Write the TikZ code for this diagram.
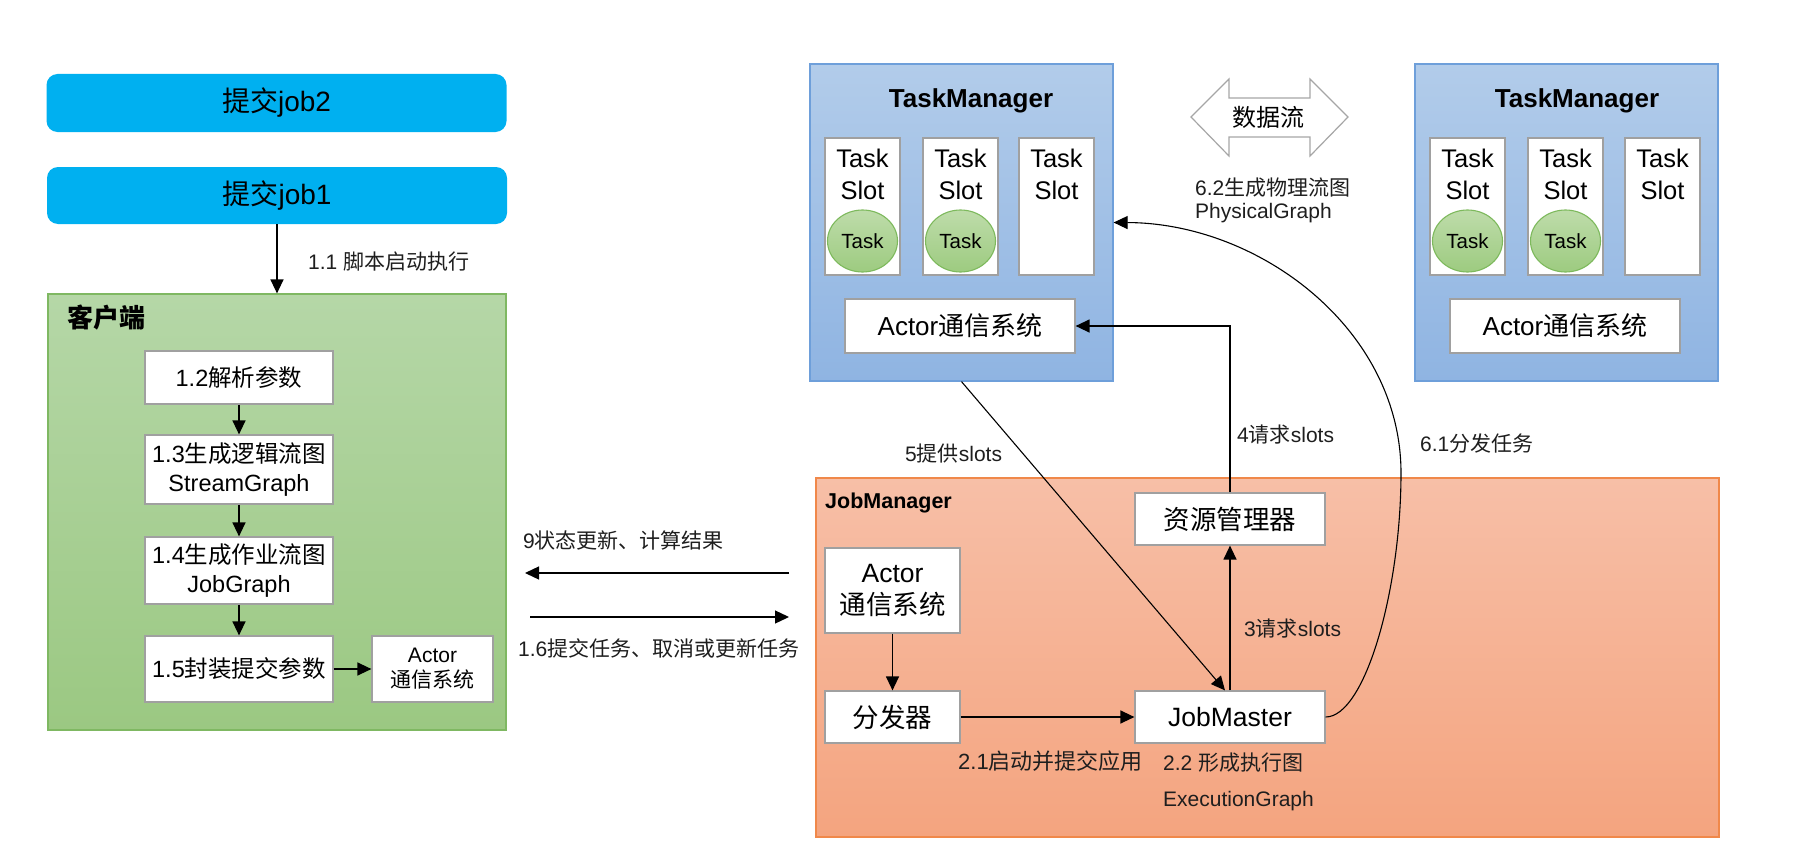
\documentclass[tikz,border=0pt]{standalone}
\usepackage{fontspec}
\setmainfont{Liberation Sans}
\newfontfamily\cjk{Noto Sans CJK SC}
\newcommand\zh[1]{{\cjk #1}}
\usetikzlibrary{arrows.meta,shapes.geometric,calc}
\definecolor{jobblue}{HTML}{00B0F0}
\definecolor{boxgray}{HTML}{A0A0A0}
\definecolor{greentop}{HTML}{B5D7A7}
\definecolor{greenbot}{HTML}{9BC882}
\definecolor{greenedge}{HTML}{7FB862}
\definecolor{bluetop}{HTML}{B2CCEA}
\definecolor{bluebot}{HTML}{8FB4E2}
\definecolor{blueedge}{HTML}{6E9FDA}
\definecolor{orgtop}{HTML}{F7BFA7}
\definecolor{orgbot}{HTML}{F4A47F}
\definecolor{orgedge}{HTML}{F0884A}
\definecolor{elltop}{HTML}{BEDCAA}
\definecolor{ellbot}{HTML}{9DCB80}
\definecolor{elledge}{HTML}{7DB95C}
\definecolor{dagray}{HTML}{A6A6A6}
\definecolor{labelc}{HTML}{1E1E1E}
\tikzset{
  wbox/.style={draw=boxgray, fill=white, line width=1.2pt, inner sep=0pt, align=center, text=black},
  jobbox/.style={fill=jobblue, rounded corners=11pt, inner sep=0pt, font=\fontsize{28}{32}\selectfont},
  arr/.style={line width=1.3pt, draw=black, -{Triangle[length=14pt,width=13pt]}},
  lbl/.style={anchor=west, inner sep=0pt, text=labelc, font=\fontsize{21}{25}\selectfont},
  cbox/.style={wbox, font=\fontsize{23.5}{28.5}\selectfont},
  tmbox/.style={draw=blueedge, line width=1.2pt, top color=bluetop, bottom color=bluebot, inner sep=0pt},
  slotbox/.style={wbox, minimum width=75pt, minimum height=137pt},
  slottxt/.style={inner sep=0pt, align=center, font=\fontsize{25.5}{32}\selectfont},
  taskell/.style={ellipse, draw=elledge, line width=1.1pt, top color=elltop, bottom color=ellbot, minimum width=70pt, minimum height=62pt, inner sep=0pt, font=\fontsize{20.5}{24}\selectfont},
  jmbox/.style={wbox, font=\fontsize{26.5}{32}\selectfont},
}
\begin{document}
\begin{tikzpicture}[x=1pt,y=-1pt]
\fill[white] (0,0) rectangle (1797,859);
\useasboundingbox (0,0) rectangle (1797,859);

% ---------- client side ----------
\node[jobbox, minimum width=460pt, minimum height=58pt] (job2) at (276.5,103) {\zh{提交}job2};
\node[jobbox, minimum width=460pt, minimum height=57pt] (job1) at (277,195.5) {\zh{提交}job1};

\node[draw=greenedge, line width=1.2pt, top color=greentop, bottom color=greenbot,
      minimum width=458pt, minimum height=436pt, inner sep=0pt] (client) at (277,512) {};
\node[anchor=west, inner sep=0pt, font=\fontsize{26}{30}\selectfont\bfseries] (clientt) at (67,318) {\zh{客户端}};

\draw[arr] (job1) -- (client);
\node[lbl] (l11) at (308,262) {1.1 \zh{脚本启动执行}};

\node[cbox, minimum width=188pt, minimum height=53pt] (n12) at (239,377.5) {1.2\zh{解析参数}};
\node[cbox, minimum width=188pt, minimum height=69pt] (n13) at (239,469.5) {1.3\zh{生成逻辑流图}\\StreamGraph};
\node[cbox, minimum width=188pt, minimum height=67pt] (n14) at (239,570.5) {1.4\zh{生成作业流图}\\JobGraph};
\node[cbox, minimum width=188pt, minimum height=66pt] (n15) at (239,669) {1.5\zh{封装提交参数}};
\node[wbox, minimum width=121pt, minimum height=66pt, font=\fontsize{21}{25}\selectfont] (cact) at (432.5,669) {Actor\\\zh{通信系统}};

\draw[arr] (n12) -- (n13);
\draw[arr] (n13) -- (n14);
\draw[arr] (n14) -- (n15);
\draw[arr] (n15) -- (cact);

% ---------- middle arrows ----------
\coordinate (m9s) at (789,573);
\coordinate (m9e) at (525,573);
\coordinate (m16s) at (530,617);
\coordinate (m16e) at (789,617);
\draw[arr] (m9s) -- (m9e);
\draw[arr] (m16s) -- (m16e);
\node[lbl] (l9) at (523,540) {9\zh{状态更新、计算结果}};
\node[lbl] (l16) at (518,648) {1.6\zh{提交任务、取消或更新任务}};

% ---------- TaskManager left ----------
\node[tmbox, minimum width=303pt, minimum height=317pt] (tmL) at (961.5,222.5) {};
\node[inner sep=0pt, font=\fontsize{26}{30}\selectfont\bfseries] (tmLt) at (971,101) {TaskManager};
\node[slotbox] (sL1) at (862.5,206.5) {};
\node[slotbox] (sL2) at (960.5,206.5) {};
\node[slotbox] (sL3) at (1056.5,206.5) {};
\node[slottxt] (sL1t) at (862.5,174) {Task\\Slot};
\node[slottxt] (sL2t) at (960.5,174) {Task\\Slot};
\node[slottxt] (sL3t) at (1056.5,174) {Task\\Slot};
\node[taskell] (eL1) at (862.5,241) {Task};
\node[taskell] (eL2) at (960.5,241) {Task};
\node[wbox, minimum width=230pt, minimum height=54pt, font=\fontsize{26}{30}\selectfont] (aL) at (960,326) {Actor\zh{通信系统}};

% ---------- TaskManager right ----------
\node[tmbox, minimum width=303pt, minimum height=317pt] (tmR) at (1566.5,222.5) {};
\node[inner sep=0pt, font=\fontsize{26}{30}\selectfont\bfseries] (tmRt) at (1577,101) {TaskManager};
\node[slotbox] (sR1) at (1467.5,206.5) {};
\node[slotbox] (sR2) at (1565.5,206.5) {};
\node[slotbox] (sR3) at (1662.5,206.5) {};
\node[slottxt] (sR1t) at (1467.5,174) {Task\\Slot};
\node[slottxt] (sR2t) at (1565.5,174) {Task\\Slot};
\node[slottxt] (sR3t) at (1662.5,174) {Task\\Slot};
\node[taskell] (eR1) at (1467.5,241) {Task};
\node[taskell] (eR2) at (1565.5,241) {Task};
\node[wbox, minimum width=230pt, minimum height=54pt, font=\fontsize{26}{30}\selectfont] (aR) at (1565,326) {Actor\zh{通信系统}};

% ---------- data flow double arrow ----------
\draw[draw=dagray, fill=white, line width=1.2pt]
  (1191,117) -- (1229,79) -- (1229,98) -- (1310,98) -- (1310,79) -- (1348,117)
  -- (1310,156) -- (1310,137) -- (1229,137) -- (1229,156) -- cycle;
\node[inner sep=0pt, font=\fontsize{24}{28}\selectfont] (df) at (1268,117) {\zh{数据流}};
\node[lbl] (l62a) at (1195,188) {6.2\zh{生成物理流图}};
\node[lbl] (l62b) at (1195,213) {PhysicalGraph};

% ---------- JobManager ----------
\node[draw=orgedge, line width=1.2pt, top color=orgtop, bottom color=orgbot,
      minimum width=903pt, minimum height=359pt, inner sep=0pt] (jmgr) at (1267.5,657.5) {};
\node[anchor=west, inner sep=0pt, font=\fontsize{21.5}{25}\selectfont\bfseries] (jmgrt) at (825,503) {JobManager};

\node[jmbox, minimum width=135pt, minimum height=85pt] (jact) at (892.5,590.5) {Actor\\\zh{通信系统}};
\node[jmbox, minimum width=135pt, minimum height=52pt] (disp) at (892.5,717) {\zh{分发器}};
\node[jmbox, minimum width=190pt, minimum height=52pt] (jm) at (1230,717) {JobMaster};
\node[jmbox, minimum width=190pt, minimum height=52pt] (rm) at (1230,519) {\zh{资源管理器}};

\draw[arr] (jact) -- (disp);
\draw[arr] (disp) -- (jm);
\draw[arr] (jm) -- (rm);
\draw[arr] (rm.north) |- (aL.east);
\draw[arr, line width=1.1pt] (tmL.south) -- ([xshift=-5pt]jm.north);
\draw[arr, line width=1.1pt] (jm.east) .. controls (1365,717) and (1401,590) .. (1401,473)
      .. controls (1401,330) and (1260,223) .. (tmL.east);

\node[lbl, font=\fontsize{22}{26}\selectfont] (l21) at (958,761) {2.1\zh{启动并提交应用}};
\node[lbl] (l22) at (1163,763) {2.2 \zh{形成执行图}};
\node[lbl] (l22b) at (1163,801) {ExecutionGraph};
\node[lbl] (l3) at (1244,629) {3\zh{请求}slots};
\node[lbl] (l4) at (1237,435) {4\zh{请求}slots};
\node[lbl] (l5) at (905,454) {5\zh{提供}slots};
\node[lbl] (l61) at (1420,444) {6.1\zh{分发任务}};
\end{tikzpicture}
\end{document}
